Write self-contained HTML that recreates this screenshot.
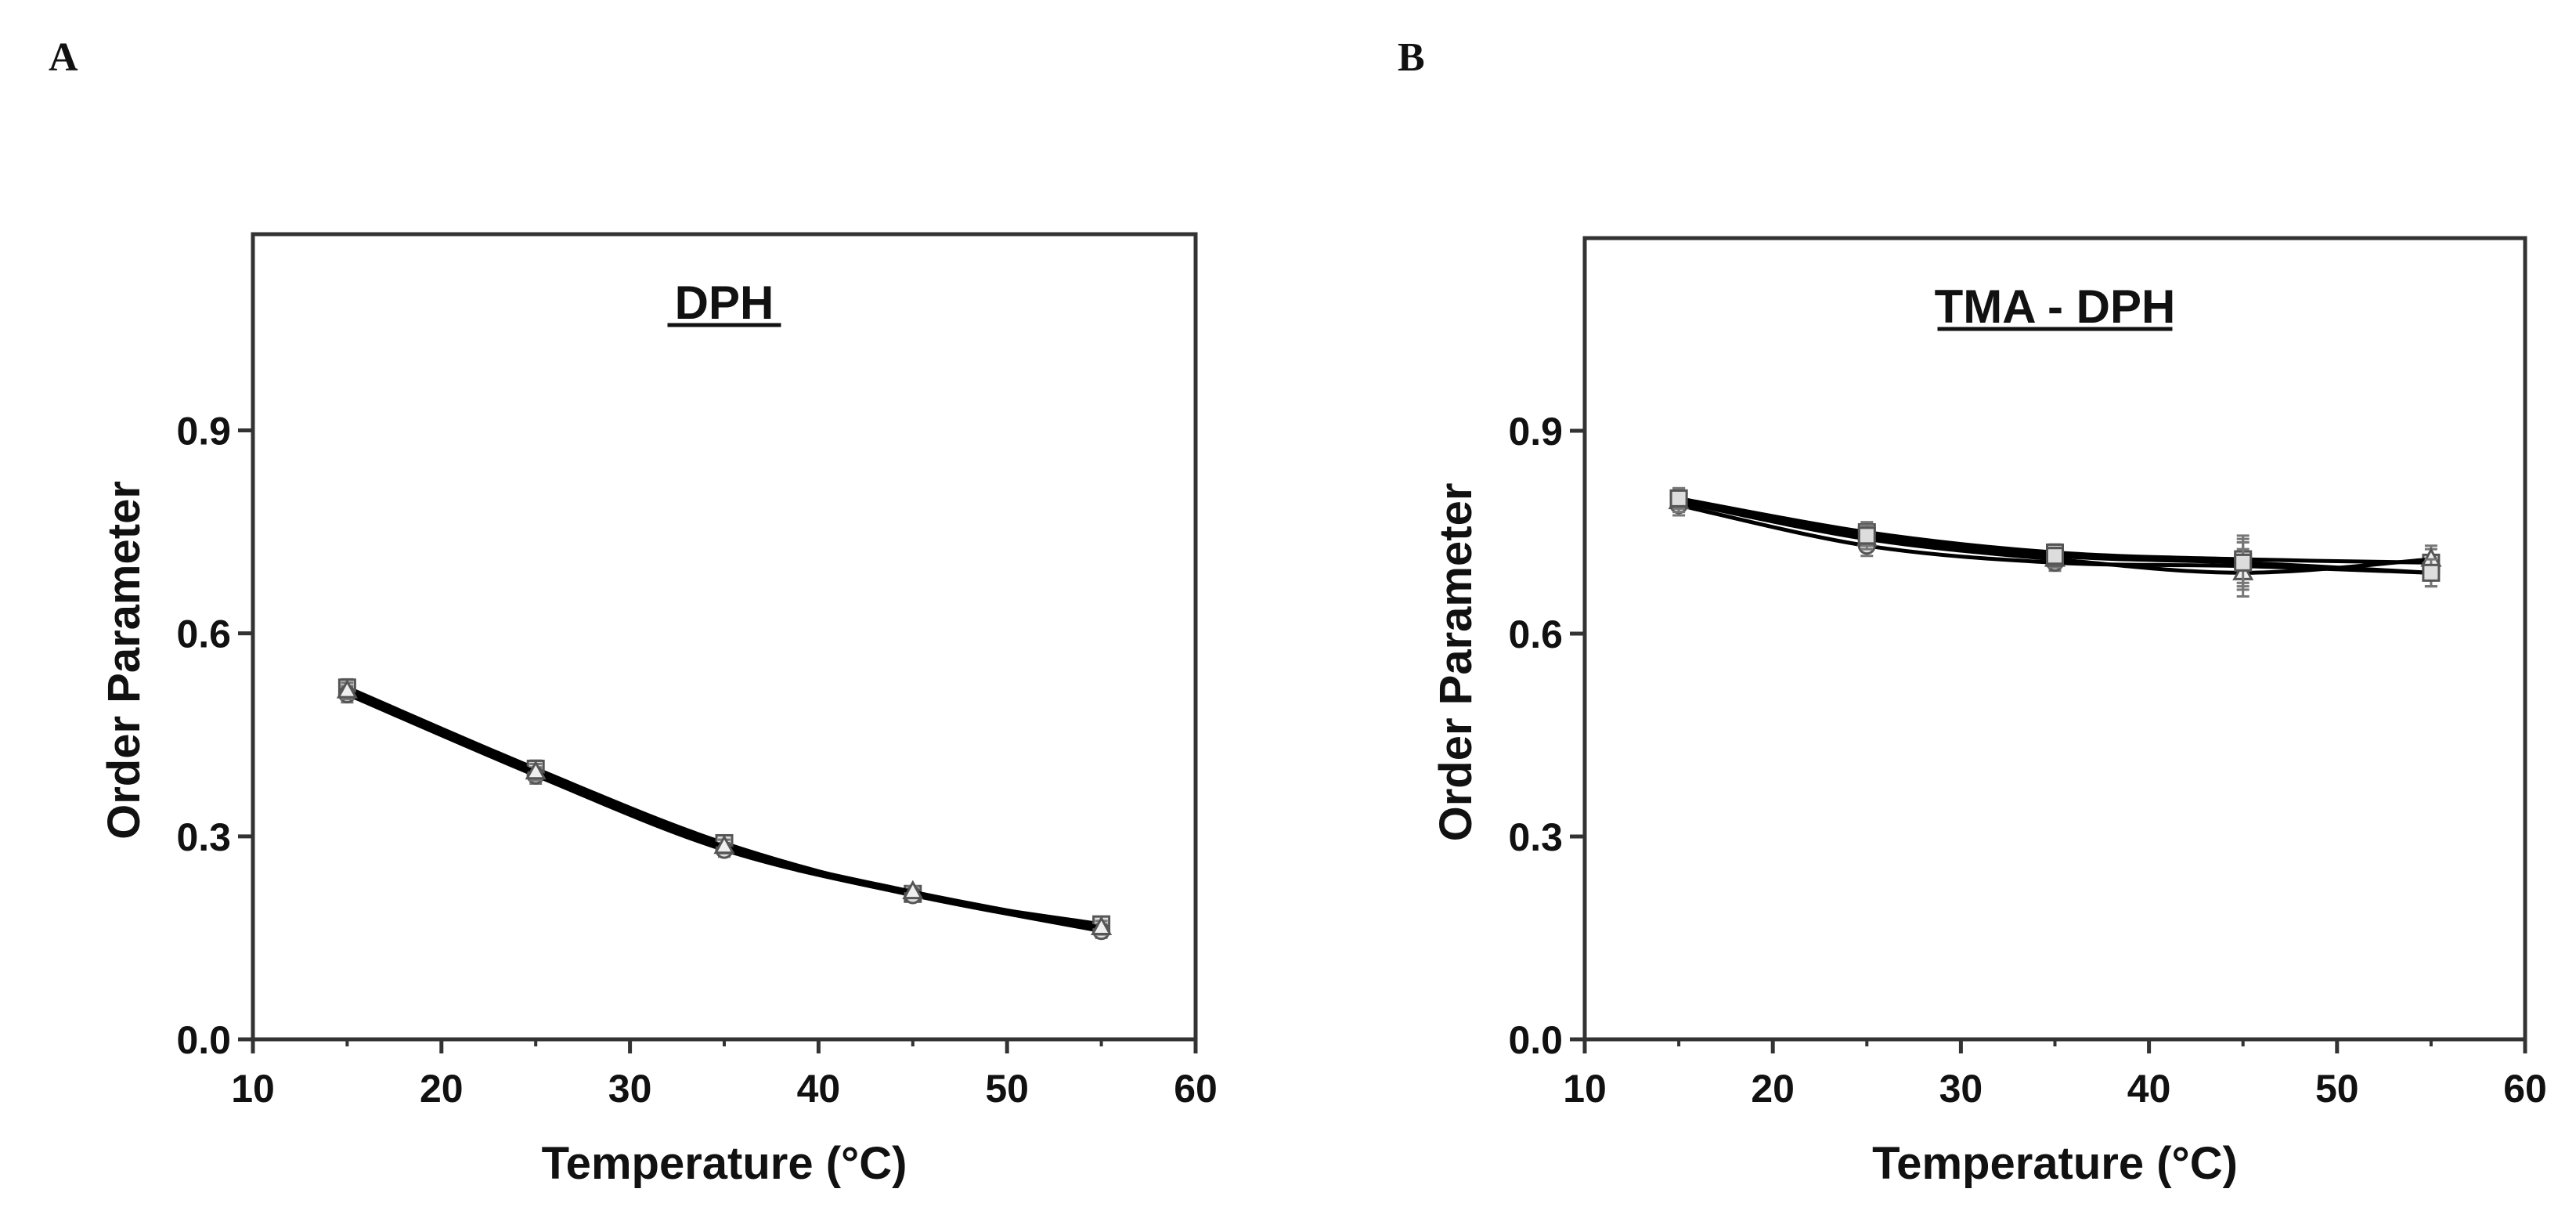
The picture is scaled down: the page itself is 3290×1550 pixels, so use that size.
<!DOCTYPE html>
<html><head><meta charset="utf-8"><style>
html,body{margin:0;padding:0;background:#fff;}
svg{display:block;}
text{font-family:"Liberation Sans",Arial,sans-serif;font-weight:bold;fill:#111;}
</style></head><body>
<svg id="fig" width="3290" height="1550" viewBox="0 0 3290 1550" xmlns="http://www.w3.org/2000/svg">
<text x="62" y="90" style="font-family:'Liberation Serif',serif;font-size:52px">A</text>
<text x="1785" y="90" style="font-family:'Liberation Serif',serif;font-size:52px">B</text>
</svg>
<script>
const xTicks = [10, 20, 30, 40, 50, 60];
const yTicks = [0.0, 0.3, 0.6, 0.9];
const yTickLabels = ["0.0", "0.3", "0.6", "0.9"];
const temps = [15, 25, 35, 45, 55];
const dphS1 = [0.52, 0.40, 0.290, 0.215, 0.170];
const dphS2 = [0.51, 0.39, 0.280, 0.213, 0.160];
const dphS3 = [0.515, 0.395, 0.285, 0.218, 0.165];
const tmaS1 = [0.800, 0.750, 0.720, 0.710, 0.705];
const tmaS2 = [0.790, 0.730, 0.705, 0.700, 0.690];
const tmaS3 = [0.795, 0.740, 0.710, 0.690, 0.710];
const tmaS4 = [0.800, 0.745, 0.715, 0.705, 0.690];
const tmaErr = [0.015, 0.015, 0.012, 0.035, 0.02];
const dphErr = [0.012, 0.012, 0.010, 0.008, 0.010];

const NS = "http://www.w3.org/2000/svg";
const svg = document.getElementById('fig');
function mk(tag, attrs, parent){const e=document.createElementNS(NS,tag);for(const k in attrs)e.setAttribute(k,attrs[k]);(parent||svg).appendChild(e);return e;}

function panel(cfg){
  const g = mk('g',{});
  
  
  const L=cfg.l,R=cfg.r,T=cfg.t,B=cfg.b;
  const xs = v => L + (v-10)/(60-10)*(R-L);
  const ys = v => B - v/cfg.ymax*(B-T);
  const frame = mk('rect',{x:L,y:T,width:R-L,height:B-T,fill:'none',stroke:'#333','stroke-width':5},g);
  
  
  xTicks.forEach((v,i)=>{
    const t = mk('line',{x1:xs(v),x2:xs(v),y1:B,y2:B+18,stroke:'#333','stroke-width':5},g);
    
    
    const lb = mk('text',{x:xs(v),y:B+80,'text-anchor':'middle','font-size':50},g);
    lb.textContent = v;
    
    
    if(i<xTicks.length-1){
      const m = mk('line',{x1:xs(v+5),x2:xs(v+5),y1:B,y2:B+9,stroke:'#333','stroke-width':4},g);
      
      
    }
  });
  yTicks.forEach((v,i)=>{
    const t = mk('line',{x1:L-19,x2:L,y1:ys(v),y2:ys(v),stroke:'#333','stroke-width':5},g);
    
    
    const lb = mk('text',{x:L-28,y:ys(v)+18,'text-anchor':'end','font-size':50},g);
    lb.textContent = yTickLabels[i];
    
    
  });
  const xt = mk('text',{x:(L+R)/2,y:B+178,'text-anchor':'middle','font-size':58},g);
  xt.textContent = 'Temperature (°C)';
  
  
  const yt = mk('text',{x:0,y:0,'text-anchor':'middle','font-size':58,transform:`translate(${L-145},${(T+B)/2+30}) rotate(-90)`},g);
  yt.textContent = 'Order Parameter';
  
  
  const tt = mk('text',{x:(L+R)/2,y:T+108,'text-anchor':'middle','font-size':60},g);
  tt.textContent = cfg.title;
  
  
  const tw = cfg.titleW;
  const ul = mk('line',{x1:(L+R)/2-tw/2,x2:(L+R)/2+tw/2,y1:T+116,y2:T+116,stroke:'#111','stroke-width':5},g);
  
  

  cfg.series.forEach((s,si)=>{
    const pts = temps.map((t,i)=>[xs(t),ys(s[i])]);
    let d = `M${pts[0][0]},${pts[0][1]}`;
    for(let i=0;i<pts.length-1;i++){
      const p0=pts[Math.max(0,i-1)],p1=pts[i],p2=pts[i+1],p3=pts[Math.min(pts.length-1,i+2)];
      const c1=[p1[0]+(p2[0]-p0[0])/6,p1[1]+(p2[1]-p0[1])/6];
      const c2=[p2[0]-(p3[0]-p1[0])/6,p2[1]-(p3[1]-p1[1])/6];
      d+=` C${c1[0]},${c1[1]} ${c2[0]},${c2[1]} ${p2[0]},${p2[1]}`;
    }
    const path = mk('path',{d:d,fill:'none',stroke:'#000','stroke-width':5},g);
    
    
    temps.forEach((t,i)=>{
      const x=xs(t),y=ys(s[i]),e=cfg.err[i]*(B-T)/cfg.ymax;
      const eb = mk('path',{d:`M${x},${y-e}V${y+e}M${x-8},${y-e}H${x+8}M${x-8},${y+e}H${x+8}`,stroke:'#777','stroke-width':3,fill:'none'},g);
      
      
      let m;
      if(si%3===0) m = mk('rect',{x:x-10,y:y-10,width:20,height:20,fill:'#ddd',stroke:'#555','stroke-width':3},g);
      else if(si%3===1) m = mk('circle',{cx:x,cy:y,r:10,fill:'#ddd',stroke:'#555','stroke-width':3},g);
      else m = mk('path',{d:`M${x},${y-12}L${x+11},${y+8}L${x-11},${y+8}Z`,fill:'#eee',stroke:'#555','stroke-width':3},g);
      
      
    });
  });
}
panel({name:'panel-a-dph',l:323,r:1527,t:299,b:1327,ymax:1.19,title:'DPH',titleW:145,series:[dphS1,dphS2,dphS3],err:dphErr});
panel({name:'panel-b-tma-dph',l:2024,r:3225,t:304,b:1327,ymax:1.185,title:'TMA - DPH',titleW:300,series:[tmaS1,tmaS2,tmaS3,tmaS4],err:tmaErr});
</script>
</body></html>
